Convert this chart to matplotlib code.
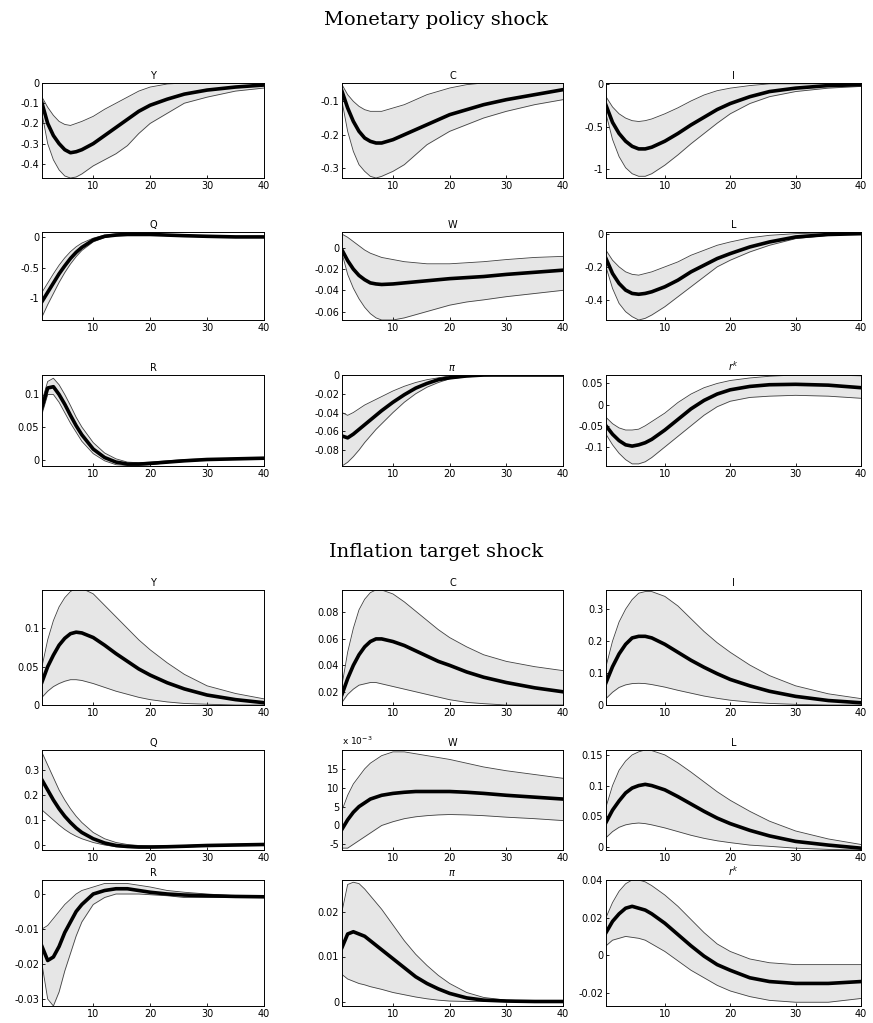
import numpy as np
import matplotlib
matplotlib.use('Agg')
import matplotlib.pyplot as plt

h = [1, 2, 3, 4, 5, 6, 7, 8, 10, 12, 14, 16, 18, 20, 23, 26, 30, 35, 40]

# ---- Monetary policy shock ----
mp_Y = [-0.1, -0.2, -0.26, -0.3, -0.33, -0.345, -0.34, -0.33, -0.3, -0.26, -0.22, -0.18, -0.14, -0.11, -0.08, -0.055, -0.035, -0.02, -0.01]
mp_Y_lo = [-0.15, -0.3, -0.38, -0.43, -0.46, -0.47, -0.465, -0.45, -0.41, -0.38, -0.35, -0.31, -0.25, -0.2, -0.15, -0.1, -0.07, -0.04, -0.025]
mp_Y_hi = [-0.07, -0.12, -0.16, -0.19, -0.205, -0.21, -0.2, -0.19, -0.165, -0.13, -0.1, -0.07, -0.04, -0.02, -0.005, 0, 0, 0, 0]

mp_C = [-0.07, -0.12, -0.16, -0.19, -0.21, -0.22, -0.225, -0.225, -0.215, -0.2, -0.185, -0.17, -0.155, -0.14, -0.125, -0.11, -0.095, -0.08, -0.065]
mp_C_lo = [-0.1, -0.19, -0.25, -0.29, -0.31, -0.325, -0.33, -0.325, -0.31, -0.29, -0.26, -0.23, -0.21, -0.19, -0.17, -0.15, -0.13, -0.11, -0.095]
mp_C_hi = [-0.05, -0.08, -0.1, -0.115, -0.125, -0.13, -0.13, -0.13, -0.12, -0.11, -0.095, -0.08, -0.07, -0.06, -0.05, -0.045, -0.045, -0.045, -0.045]

mp_I = [-0.25, -0.45, -0.58, -0.67, -0.73, -0.76, -0.76, -0.74, -0.67, -0.58, -0.48, -0.39, -0.3, -0.23, -0.15, -0.09, -0.05, -0.02, -0.01]
mp_I_lo = [-0.35, -0.65, -0.85, -0.98, -1.05, -1.08, -1.08, -1.05, -0.95, -0.83, -0.7, -0.58, -0.46, -0.35, -0.23, -0.15, -0.09, -0.05, -0.03]
mp_I_hi = [-0.15, -0.27, -0.35, -0.4, -0.43, -0.44, -0.43, -0.41, -0.35, -0.28, -0.2, -0.13, -0.08, -0.05, -0.02, 0, 0, 0, 0]

mp_Q = [-1.05, -0.9, -0.75, -0.6, -0.47, -0.35, -0.25, -0.17, -0.05, 0.01, 0.03, 0.04, 0.04, 0.04, 0.03, 0.02, 0.01, 0.0, 0.0]
mp_Q_lo = [-1.3, -1.1, -0.92, -0.74, -0.58, -0.44, -0.32, -0.22, -0.08, -0.01, 0.02, 0.03, 0.03, 0.03, 0.02, 0.01, 0, -0.01, -0.01]
mp_Q_hi = [-0.9, -0.75, -0.6, -0.46, -0.34, -0.24, -0.16, -0.1, -0.02, 0.03, 0.05, 0.06, 0.06, 0.05, 0.04, 0.03, 0.02, 0.01, 0.01]

mp_W = [-0.002, -0.012, -0.02, -0.026, -0.03, -0.033, -0.034, -0.0345, -0.034, -0.033, -0.032, -0.031, -0.03, -0.029, -0.028, -0.027, -0.025, -0.023, -0.021]
mp_W_lo = [-0.005, -0.025, -0.038, -0.048, -0.056, -0.062, -0.066, -0.068, -0.068, -0.066, -0.063, -0.06, -0.057, -0.054, -0.051, -0.049, -0.046, -0.043, -0.04]
mp_W_hi = [0.013, 0.01, 0.006, 0.002, -0.002, -0.005, -0.007, -0.009, -0.011, -0.013, -0.014, -0.015, -0.015, -0.015, -0.014, -0.013, -0.011, -0.009, -0.008]

mp_L = [-0.15, -0.24, -0.3, -0.34, -0.36, -0.365, -0.36, -0.35, -0.32, -0.28, -0.23, -0.19, -0.15, -0.12, -0.08, -0.05, -0.02, -0.005, 0.0]
mp_L_lo = [-0.2, -0.33, -0.42, -0.47, -0.5, -0.52, -0.51, -0.49, -0.44, -0.38, -0.32, -0.26, -0.2, -0.16, -0.11, -0.07, -0.03, -0.01, 0]
mp_L_hi = [-0.1, -0.16, -0.2, -0.23, -0.245, -0.25, -0.24, -0.23, -0.2, -0.17, -0.13, -0.1, -0.07, -0.05, -0.025, -0.01, 0, 0.005, 0.005]

mp_R = [0.08, 0.11, 0.112, 0.1, 0.085, 0.068, 0.052, 0.038, 0.016, 0.003, -0.004, -0.007, -0.007, -0.006, -0.004, -0.002, 0.0, 0.001, 0.002]
mp_R_lo = [0.07, 0.1, 0.1, 0.088, 0.072, 0.056, 0.042, 0.028, 0.009, -0.002, -0.008, -0.009, -0.009, -0.008, -0.005, -0.003, -0.001, 0, 0.001]
mp_R_hi = [0.09, 0.12, 0.125, 0.115, 0.1, 0.083, 0.065, 0.05, 0.026, 0.01, 0.001, -0.004, -0.005, -0.004, -0.002, 0, 0.001, 0.002, 0.003]

mp_pi = [-0.065, -0.067, -0.063, -0.058, -0.053, -0.048, -0.043, -0.038, -0.029, -0.021, -0.014, -0.009, -0.005, -0.003, -0.001, 0, 0, 0, 0]
mp_pi_lo = [-0.097, -0.093, -0.087, -0.08, -0.072, -0.065, -0.058, -0.052, -0.04, -0.029, -0.02, -0.013, -0.008, -0.004, -0.002, -0.001, 0, 0, 0]
mp_pi_hi = [-0.04, -0.043, -0.04, -0.036, -0.032, -0.029, -0.026, -0.023, -0.017, -0.012, -0.008, -0.005, -0.003, -0.001, 0, 0, 0, 0, 0]

mp_rk = [-0.05, -0.07, -0.085, -0.095, -0.098, -0.095, -0.09, -0.082, -0.06, -0.035, -0.01, 0.01, 0.025, 0.035, 0.043, 0.047, 0.048, 0.046, 0.04]
mp_rk_lo = [-0.07, -0.095, -0.115, -0.13, -0.14, -0.14, -0.135, -0.125, -0.1, -0.075, -0.05, -0.025, -0.005, 0.008, 0.017, 0.02, 0.022, 0.02, 0.015]
mp_rk_hi = [-0.03, -0.045, -0.055, -0.06, -0.06, -0.058, -0.05, -0.04, -0.02, 0.005, 0.025, 0.04, 0.05, 0.057, 0.063, 0.067, 0.07, 0.07, 0.068]

# ---- Inflation target shock ----
it_Y = [0.03, 0.05, 0.065, 0.078, 0.087, 0.093, 0.095, 0.094, 0.088, 0.078, 0.067, 0.057, 0.047, 0.039, 0.029, 0.021, 0.013, 0.007, 0.003]
it_Y_lo = [0.01, 0.018, 0.024, 0.028, 0.031, 0.033, 0.033, 0.032, 0.028, 0.023, 0.018, 0.014, 0.01, 0.007, 0.004, 0.002, 0.001, 0, 0]
it_Y_hi = [0.05, 0.085, 0.11, 0.128, 0.14, 0.148, 0.152, 0.152, 0.145, 0.13, 0.115, 0.1, 0.085, 0.072, 0.055, 0.04, 0.025, 0.015, 0.008]

it_C = [0.018, 0.03, 0.04, 0.048, 0.054, 0.058, 0.06, 0.06, 0.058, 0.055, 0.051, 0.047, 0.043, 0.04, 0.035, 0.031, 0.027, 0.023, 0.02]
it_C_lo = [0.012, 0.018, 0.022, 0.025, 0.026, 0.027, 0.027, 0.026, 0.024, 0.022, 0.02, 0.018, 0.016, 0.014, 0.012, 0.011, 0.01, 0.01, 0.01]
it_C_hi = [0.025, 0.05, 0.068, 0.082, 0.09, 0.095, 0.097, 0.097, 0.094, 0.088, 0.081, 0.074, 0.067, 0.061, 0.054, 0.048, 0.043, 0.039, 0.036]

it_I = [0.07, 0.12, 0.16, 0.19, 0.21, 0.215, 0.215, 0.21, 0.19, 0.165, 0.14, 0.118, 0.098, 0.08, 0.06, 0.043, 0.027, 0.014, 0.007]
it_I_lo = [0.02, 0.04, 0.055, 0.063, 0.067, 0.068, 0.067, 0.064, 0.056, 0.046, 0.037, 0.028, 0.021, 0.015, 0.009, 0.005, 0.002, 0, 0]
it_I_hi = [0.12, 0.2, 0.26, 0.3, 0.33, 0.35, 0.355, 0.355, 0.34, 0.31, 0.27, 0.23, 0.195, 0.165, 0.125, 0.092, 0.06, 0.035, 0.02]

it_Q = [0.26, 0.22, 0.18, 0.145, 0.115, 0.09, 0.068, 0.05, 0.025, 0.008, -0.002, -0.006, -0.008, -0.008, -0.007, -0.005, -0.002, 0, 0.002]
it_Q_lo = [0.14, 0.12, 0.1, 0.08, 0.062, 0.047, 0.035, 0.025, 0.01, 0.0, -0.007, -0.01, -0.012, -0.012, -0.01, -0.008, -0.005, -0.002, 0]
it_Q_hi = [0.37, 0.32, 0.27, 0.22, 0.18, 0.145, 0.115, 0.09, 0.05, 0.025, 0.01, 0.002, -0.002, -0.004, -0.004, -0.002, 0.001, 0.003, 0.005]

# W in units of 1e-3
it_W = [-1, 1.5, 3.5, 5, 6, 7, 7.5, 8, 8.5, 8.8, 9, 9, 9, 9, 8.8, 8.5, 8, 7.5, 7]
it_W_lo = [-6, -6, -5, -4, -3, -2, -1, 0, 1, 1.8, 2.3, 2.6, 2.8, 2.9, 2.8, 2.6, 2.2, 1.8, 1.3]
it_W_hi = [4, 8, 11, 13, 15, 16.5, 17.5, 18.5, 19.5, 19.5, 19, 18.5, 18, 17.5, 16.5, 15.5, 14.5, 13.5, 12.5]

it_L = [0.04, 0.06, 0.075, 0.088, 0.096, 0.1, 0.102, 0.1, 0.093, 0.082, 0.07, 0.058, 0.047, 0.038, 0.027, 0.018, 0.009, 0.003, -0.002]
it_L_lo = [0.015, 0.025, 0.032, 0.036, 0.038, 0.039, 0.038, 0.036, 0.031, 0.025, 0.019, 0.014, 0.01, 0.007, 0.003, 0.001, -0.002, -0.004, -0.005]
it_L_hi = [0.065, 0.1, 0.125, 0.14, 0.15, 0.155, 0.158, 0.157, 0.15, 0.137, 0.122, 0.106, 0.09, 0.076, 0.058, 0.042, 0.026, 0.013, 0.004]

it_R = [-0.015, -0.019, -0.018, -0.015, -0.011, -0.008, -0.005, -0.003, 0, 0.001, 0.0015, 0.0015, 0.001, 0.0005, 0, -0.0003, -0.0005, -0.0007, -0.0008]
it_R_lo = [-0.02, -0.03, -0.032, -0.028, -0.022, -0.017, -0.012, -0.008, -0.003, -0.001, 0, 0, 0, -0.0002, -0.0005, -0.001, -0.001, -0.001, -0.001]
it_R_hi = [-0.01, -0.009, -0.007, -0.005, -0.003, -0.0015, 0, 0.001, 0.002, 0.003, 0.003, 0.003, 0.0025, 0.002, 0.001, 0.0005, 0, -0.0005, -0.0006]

it_pi = [0.012, 0.015, 0.0155, 0.015, 0.0145, 0.0135, 0.0125, 0.0115, 0.0095, 0.0075, 0.0055, 0.004, 0.0028, 0.0018, 0.0008, 0.0003, 0.0001, 0, 0]
it_pi_lo = [0.006, 0.005, 0.0045, 0.004, 0.0037, 0.0033, 0.003, 0.0027, 0.002, 0.0015, 0.001, 0.0006, 0.0003, 0.0001, 0, 0, 0, 0, 0]
it_pi_hi = [0.02, 0.026, 0.0265, 0.0262, 0.025, 0.0235, 0.022, 0.0205, 0.017, 0.0135, 0.0105, 0.008, 0.0058, 0.004, 0.002, 0.0009, 0.0003, 0.0001, 0]

it_rk = [0.012, 0.018, 0.022, 0.025, 0.026, 0.025, 0.024, 0.022, 0.017, 0.011, 0.005, -0.0005, -0.005, -0.008, -0.012, -0.014, -0.015, -0.015, -0.014]
it_rk_lo = [0.005, 0.008, 0.009, 0.01, 0.0095, 0.009, 0.008, 0.006, 0.002, -0.003, -0.008, -0.012, -0.016, -0.019, -0.022, -0.024, -0.025, -0.025, -0.023]
it_rk_hi = [0.02, 0.028, 0.034, 0.038, 0.04, 0.04, 0.039, 0.037, 0.032, 0.026, 0.019, 0.012, 0.006, 0.002, -0.002, -0.004, -0.005, -0.005, -0.005]

names = ['Y', 'C', 'I', 'Q', 'W', 'L', 'R', r'$\pi$', r'$r^k$']

mp_panels = [
    (mp_Y, mp_Y_lo, mp_Y_hi, (-0.47, 0), [0, -0.1, -0.2, -0.3, -0.4], ['0', '-0.1', '-0.2', '-0.3', '-0.4']),
    (mp_C, mp_C_lo, mp_C_hi, (-0.33, -0.045), [-0.1, -0.2, -0.3], ['-0.1', '-0.2', '-0.3']),
    (mp_I, mp_I_lo, mp_I_hi, (-1.1, 0.01), [0, -0.5, -1], ['0', '-0.5', '-1']),
    (mp_Q, mp_Q_lo, mp_Q_hi, (-1.35, 0.08), [0, -0.5, -1], ['0', '-0.5', '-1']),
    (mp_W, mp_W_lo, mp_W_hi, (-0.068, 0.015), [0, -0.02, -0.04, -0.06], ['0', '-0.02', '-0.04', '-0.06']),
    (mp_L, mp_L_lo, mp_L_hi, (-0.52, 0.01), [0, -0.2, -0.4], ['0', '-0.2', '-0.4']),
    (mp_R, mp_R_lo, mp_R_hi, (-0.01, 0.13), [0, 0.05, 0.1], ['0', '0.05', '0.1']),
    (mp_pi, mp_pi_lo, mp_pi_hi, (-0.097, 0), [0, -0.02, -0.04, -0.06, -0.08], ['0', '-0.02', '-0.04', '-0.06', '-0.08']),
    (mp_rk, mp_rk_lo, mp_rk_hi, (-0.145, 0.07), [0.05, 0, -0.05, -0.1], ['0.05', '0', '-0.05', '-0.1']),
]
it_panels = [
    (it_Y, it_Y_lo, it_Y_hi, (0, 0.15), [0, 0.05, 0.1], ['0', '0.05', '0.1']),
    (it_C, it_C_lo, it_C_hi, (0.01, 0.097), [0.02, 0.04, 0.06, 0.08], ['0.02', '0.04', '0.06', '0.08']),
    (it_I, it_I_lo, it_I_hi, (0, 0.36), [0, 0.1, 0.2, 0.3], ['0', '0.1', '0.2', '0.3']),
    (it_Q, it_Q_lo, it_Q_hi, (-0.02, 0.38), [0, 0.1, 0.2, 0.3], ['0', '0.1', '0.2', '0.3']),
    (it_W, it_W_lo, it_W_hi, (-6.5, 20), [-5, 0, 5, 10, 15], ['-5', '0', '5', '10', '15']),
    (it_L, it_L_lo, it_L_hi, (-0.005, 0.158), [0, 0.05, 0.1, 0.15], ['0', '0.05', '0.1', '0.15']),
    (it_R, it_R_lo, it_R_hi, (-0.032, 0.004), [0, -0.01, -0.02, -0.03], ['0', '-0.01', '-0.02', '-0.03']),
    (it_pi, it_pi_lo, it_pi_hi, (-0.001, 0.027), [0, 0.01, 0.02], ['0', '0.01', '0.02']),
    (it_rk, it_rk_lo, it_rk_hi, (-0.027, 0.04), [-0.02, 0, 0.02, 0.04], ['-0.02', '0', '0.02', '0.04']),
]

W_PX, H_PX = 873, 1023
fig = plt.figure(figsize=(W_PX / 100, H_PX / 100), dpi=100)

# axes boxes in pixels: columns (left, right), rows (top, bottom)
cols = [(42, 264), (342, 563), (606, 861)]
rows_mp = [(83, 178), (232, 320), (375, 466)]
rows_it = [(590, 705), (750, 850), (880, 1006)]


def draw(panels, rows):
    for k, (m, lo, hi, ylim, yt, ytl) in enumerate(panels):
        r, c = divmod(k, 3)
        x0, x1 = cols[c]
        t, b = rows[r]
        ax = fig.add_axes([x0 / W_PX, 1 - b / H_PX, (x1 - x0) / W_PX, (b - t) / H_PX])
        ax.fill_between(h, lo, hi, color='#e6e6e6', lw=0)
        ax.plot(h, lo, color='#404040', lw=0.6)
        ax.plot(h, hi, color='#404040', lw=0.6)
        ax.plot(h, m, color='black', lw=2.6)
        ax.set_xlim(1, 40)
        ax.set_ylim(*ylim)
        ax.set_xticks([10, 20, 30, 40])
        ax.set_yticks(yt)
        ax.set_yticklabels(ytl)
        ax.tick_params(labelsize=7, length=2, width=0.6, direction='in', pad=2)
        for s in ax.spines.values():
            s.set_linewidth(0.7)
        ax.set_title(names[k], fontsize=7, pad=3)
        yield ax


list(draw(mp_panels, rows_mp))
axs = list(draw(it_panels, rows_it))
axs[4].text(0, 1.03, r'x 10$^{-3}$', transform=axs[4].transAxes, fontsize=6.5, ha='left', va='bottom')

fig.text(0.5, 1 - 20 / H_PX, 'Monetary policy shock', ha='center', va='center',
         fontsize=14, family='DejaVu Serif')
fig.text(0.5, 1 - 552 / H_PX, 'Inflation target shock', ha='center', va='center',
         fontsize=14, family='DejaVu Serif')

fig.savefig('out.png', dpi=100)
